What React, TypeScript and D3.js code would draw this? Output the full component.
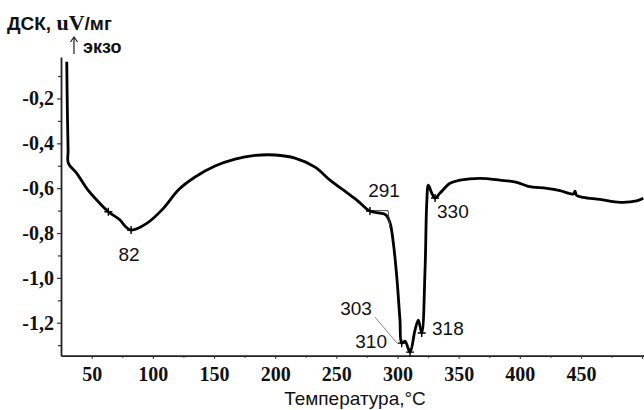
import { useEffect, useRef } from "react";
import * as d3 from "d3";

// DSC curve: temperature (°C) and signal (uV/мг)
const temps = [
  29.6, 30.1, 30.7, 30.9, 37.8, 45.9, 54.1, 63.6, 73.2, 77.2, 82.2, 95.0, 108.6,
  120.8, 134.5, 150.8, 167.2, 183.5, 199.9, 216.2, 232.6, 244.8, 255.7, 266.7,
  277.5, 285.7, 290.6, 293.9, 296.6, 299.4, 302.0, 303.4, 306.1, 310.2, 314.3,
  317.0, 319.8, 322.5, 323.9, 325.2, 328.0, 330.7, 334.8, 342.9, 351.1, 367.5,
  383.8, 397.5, 406.9, 422.0, 432.8, 443.7, 445.1, 446.3, 451.9, 465.5, 481.9,
  495.5, 500.9,
];
const dsc = [
  -0.036, -0.251, -0.43, -0.489, -0.534, -0.601, -0.653, -0.705, -0.742, -0.769,
  -0.787, -0.757, -0.69, -0.608, -0.55, -0.501, -0.47, -0.454, -0.452, -0.466,
  -0.506, -0.564, -0.608, -0.653, -0.702, -0.711, -0.72, -0.755, -0.845, -0.996,
  -1.188, -1.291, -1.282, -1.331, -1.233, -1.188, -1.246, -0.965, -0.666, -0.586,
  -0.622, -0.644, -0.622, -0.578, -0.564, -0.556, -0.564, -0.574, -0.592, -0.601,
  -0.611, -0.626, -0.613, -0.631, -0.641, -0.65, -0.663, -0.657, -0.645,
];

// small "+" marks placed on the curve
const markerTemps = [63.6, 82.2, 277.5, 303.4, 310.2, 319.8, 330.7];

// annotated temperatures
const peakLabels = ["82", "291", "303", "310", "318", "330"];

const yTicks = [-0.2, -0.4, -0.6, -0.8, -1.0, -1.2];
const yMinor = [-0.1, -0.3, -0.5, -0.7, -0.9, -1.1, -1.3];
const xTicks = [50, 100, 150, 200, 250, 300, 350, 400, 450, 500];
const xMinor = [75, 125, 175, 225, 275, 325, 375, 425, 475];

// onset construction at 291 and leader line for 303 (data units)
const onsetLines = [
  [[279, -0.7], [292.3, -0.7]],
  [[292.3, -0.7], [293.9, -0.778]],
];
const leader303 = [[281.6, -1.175], [299.6, -1.291]];

const SERIF = "'Liberation Serif', 'Times New Roman', serif";
const SANS = "'Liberation Sans', Arial, sans-serif";

export default function App() {
  const ref = useRef<SVGSVGElement>(null);

  useEffect(() => {
    const width = 644;
    const height = 410;
    const svg = d3.select(ref.current);
    svg.selectAll("*").remove();
    svg.attr("width", width).attr("height", height);

    const x = d3.scaleLinear().domain([24.9, 501.5]).range([61, 644]);
    const y = d3.scaleLinear().domain([-0.015, -1.347]).range([57, 355.7]);

    const fmt = (v: number) => v.toFixed(1).replace(".", ",");

    // y axis
    const yAxis = svg.append("g").attr("transform", "translate(61,0)");
    yAxis.call(
      d3.axisLeft(y).tickValues(yTicks).tickFormat((d) => fmt(d as number)).tickSize(4).tickSizeOuter(0).tickPadding(3)
    );
    svg
      .append("g")
      .attr("transform", "translate(61,0)")
      .call(d3.axisLeft(y).tickValues(yMinor).tickFormat(() => "").tickSize(3).tickSizeOuter(0))
      .select(".domain")
      .remove();

    // x axis
    const xAxis = svg.append("g").attr("transform", `translate(0,${y.range()[1]})`);
    xAxis.call(
      d3
        .axisBottom(x)
        .tickValues(xTicks)
        .tickFormat((d) => ((d as number) < 500 ? String(d) : ""))
        .tickSize(3)
        .tickSizeOuter(0)
        .tickPadding(8)
    );
    svg
      .append("g")
      .attr("transform", `translate(0,${y.range()[1]})`)
      .call(d3.axisBottom(x).tickValues(xMinor).tickFormat(() => "").tickSize(2).tickSizeOuter(0))
      .select(".domain")
      .remove();

    svg.selectAll(".domain").attr("stroke", "#222").attr("stroke-width", 1.8);
    svg.selectAll(".tick line").attr("stroke", "#333").attr("stroke-width", 1.2);
    svg
      .selectAll(".tick text")
      .attr("fill", "#111")
      .style("font-family", SERIF)
      .style("font-weight", "bold")
      .style("font-size", "20px");

    // curve
    const pts = temps.map((t, i) => [t, dsc[i]] as [number, number]);
    const line = d3
      .line<[number, number]>()
      .x((d) => x(d[0]))
      .y((d) => y(d[1]))
      .curve(d3.curveCatmullRom.alpha(0.5));

    svg
      .append("path")
      .datum(pts)
      .attr("d", line)
      .attr("fill", "none")
      .attr("stroke", "#000")
      .attr("stroke-width", 2.8)
      .attr("stroke-linejoin", "round");

    // thin construction lines
    const thin = d3
      .line<number[]>()
      .x((d) => x(d[0]))
      .y((d) => y(d[1]));
    [...onsetLines, leader303].forEach((seg, i) => {
      svg
        .append("path")
        .attr("d", thin(seg))
        .attr("fill", "none")
        .attr("stroke", i < 2 ? "#444" : "#888")
        .attr("stroke-width", 1);
    });

    // "+" marks
    const valueAt = (t: number) => {
      const i = d3.bisectLeft(temps, t);
      if (i <= 0) return dsc[0];
      const t0 = temps[i - 1];
      const t1 = temps[i];
      return dsc[i - 1] + ((dsc[i] - dsc[i - 1]) * (t - t0)) / (t1 - t0);
    };
    svg
      .append("g")
      .selectAll("path")
      .data(markerTemps)
      .join("path")
      .attr("d", (t) => {
        const cx = x(t);
        const cy = y(valueAt(t));
        return `M${cx - 4},${cy}H${cx + 4}M${cx},${cy - 4}V${cy + 4}`;
      })
      .attr("stroke", "#000")
      .attr("stroke-width", 1.4);

    // peak labels (placement offsets from the picture)
    const labelPos: Record<string, [number, number, string]> = {
      "82": [129, 261, "middle"],
      "291": [384, 197, "middle"],
      "303": [356, 315, "middle"],
      "310": [387, 348, "end"],
      "318": [432, 335, "start"],
      "330": [437, 218, "start"],
    };
    svg
      .append("g")
      .selectAll("text")
      .data(peakLabels)
      .join("text")
      .attr("x", (d) => labelPos[d][0])
      .attr("y", (d) => labelPos[d][1])
      .attr("text-anchor", (d) => labelPos[d][2])
      .attr("fill", "#111")
      .style("font-family", SANS)
      .style("font-size", "19px")
      .text((d) => d);

    // y title
    const title = svg
      .append("text")
      .attr("x", 7)
      .attr("y", 30)
      .attr("fill", "#111")
      .style("font-weight", "bold")
      .style("font-size", "19px");
    title.append("tspan").style("font-family", SANS).text("ДСК, ");
    title.append("tspan").style("font-family", SERIF).style("font-size", "22px").text("uV");
    title.append("tspan").style("font-family", SANS).text("/мг");

    // exo arrow
    svg
      .append("path")
      .attr("d", "M74,54V37M70.5,42L74,37L77.5,42")
      .attr("fill", "none")
      .attr("stroke", "#222")
      .attr("stroke-width", 1.2);
    svg
      .append("text")
      .attr("x", 83)
      .attr("y", 53)
      .attr("fill", "#111")
      .style("font-family", SANS)
      .style("font-weight", "bold")
      .style("font-size", "18px")
      .text("экзо");

    // x title
    svg
      .append("text")
      .attr("x", 355)
      .attr("y", 405)
      .attr("text-anchor", "middle")
      .attr("fill", "#111")
      .style("font-family", SANS)
      .style("font-size", "19px")
      .style("font-weight", "500")
      .text("Температура,°C");
  }, []);

  return (
    <svg
      ref={ref}
      style={{ position: "absolute", left: 0, top: 0, display: "block", background: "#fff" }}
      role="img"
      aria-label="DSC curve"
    />
  );
}
